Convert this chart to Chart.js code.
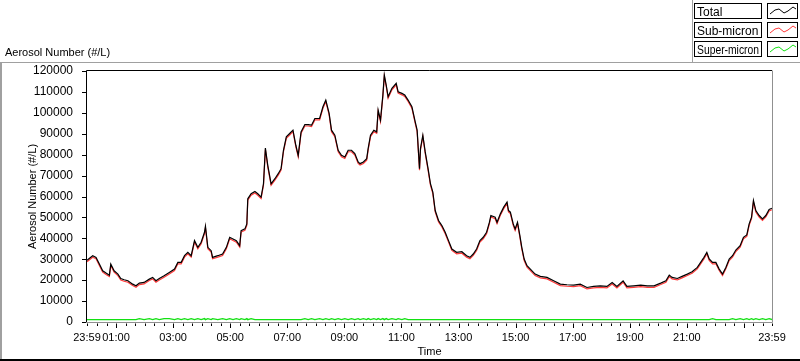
<!DOCTYPE html>
<html><head><meta charset="utf-8">
<script src="https://cdn.jsdelivr.net/npm/chart.js@4"></script>
<style>html,body{margin:0;padding:0;background:#fff;overflow:hidden}</style>
</head><body>
<canvas id="c" width="800" height="361"></canvas>
<script>
// minutes since 23:59 (start of axis)
const times = [0,12,19,26,33,40,47,50,57,65,71,78,86,96,103,110,120,131,138,145,152,162,173,184,191,198,205,212,219,226,233,240,247,249,254,261,264,275,285,
293,300,307,314,321,324,332,336,338,345,353,359,366,371,375,380,387,395,402,408,413,419,426,433,439,444,450,458,465,472,479,489,496,502,509,514,521,528,535,542,549,556,563,570,
574,581,588,591,596,603,609,612,617,622,625,629,633,641,650,654,662,668,675,683,690,694,699,701,706,711,717,722,727,732,739,746,753,760,767,777,788,798,805,812,819,826,833,840,846,849,858,
862,869,876,883,886,890,896,900,905,910,914,919,925,932,942,953,967,981,995,1009,1023,1037,1051,1065,1079,1093,1104,1114,1127,1135,1149,
1164,1178,1192,1206,1217,1224,1230,1241,1251,1262,1272,1283,1290,1297,1303,1308,1315,1322,1329,1336,1343,1350,1357,1364,1373,1380,1387,1392,1397,1401,1406,1413,1420,1427,1434,1440];

const total = [29500,31700,30900,27700,24500,23400,22400,27700,24500,22900,20800,20200,19700,18100,17300,18600,18900,20500,21300,19700,20800,22100,23700,25300,28500,28500,31700,33300,31700,38900,35700,38100,42900,45800,35700,34100,30900,31700,32500,
35700,40500,39700,38900,36500,43700,44500,46900,58900,61300,62400,61300,59700,66100,83200,74900,66100,68500,70900,73300,82100,88500,90100,91700,84500,79700,90900,94400,94400,94100,97300,97300,102900,106100,99700,91700,89300,82100,79700,78900,82100,82100,80500,76500,
75700,76500,78100,82900,89300,91700,90900,101300,96500,108500,118100,113300,107700,111700,114100,110100,109300,108500,106100,102900,95700,91700,73300,82900,89300,81300,73300,66100,62100,53300,48500,46100,42900,38900,34900,33300,33600,31700,30900,32500,34900,38900,40500,42900,47700,50900,50100,
47700,51700,54900,57300,53300,52500,46900,44500,47700,41300,35700,30100,26900,25300,22900,21800,21300,19700,18100,17800,17600,18100,16500,17000,17300,17000,18900,17000,19700,17000,17300,
17600,17300,17300,18600,19700,22400,21300,20800,21800,22900,24000,26100,28500,30900,33300,30100,28500,28500,25300,22900,26100,30100,31700,34400,36500,40500,41600,46900,50100,58100,53300,50900,49300,50900,53800,54400];

const subMicron = [28800,31000,30200,27000,23800,22700,21700,27000,23800,22200,20100,19500,19000,17400,16600,17900,18200,19800,20600,19000,20100,21400,23000,24600,27800,27800,31000,32600,31000,38200,35000,37400,42200,45100,35000,33400,30200,31000,31800,
35000,39800,39000,38200,35800,43000,43800,46200,58200,60600,61700,60600,59000,65400,82500,74200,65400,67800,70200,72600,81400,87800,89400,91000,83800,79000,90200,93700,93700,93400,96600,96600,102200,105400,99000,91000,88600,81400,79000,78200,81400,81400,79800,75800,
75000,75800,77400,82200,88600,91000,90200,100600,95800,107800,117400,112600,107000,111000,113400,109400,108600,107800,105400,102200,95000,91000,72600,82200,88600,80600,72600,65400,61400,52600,47800,45400,42200,38200,34200,32600,32900,31000,30200,31800,34200,38200,39800,42200,47000,50200,49400,
47000,51000,54200,56600,52600,51800,46200,43800,47000,40600,35000,29400,26200,24600,22200,21100,20600,19000,17400,17100,16900,17400,15800,16300,16600,16300,18200,16300,19000,16300,16600,
16900,16600,16600,17900,19000,21700,20600,20100,21100,22200,23300,25400,27800,30200,32600,29400,27800,27800,24600,22200,25400,29400,31000,33700,35800,39800,40900,46200,49400,57400,52600,50200,48600,50200,53100,53700];

const superMicron = [1150,1150,1150,1150,1150,1150,1150,1150,1150,1150,1150,1150,1150,1150,1150,1600,1150,1600,1150,1600,1150,1600,1600,1150,1600,1150,1600,1150,1600,1150,1600,1150,1600,1150,1600,1150,1600,1150,1600,
1150,1600,1150,1600,1150,1600,1150,1600,1150,1600,1150,1150,1150,1150,1150,1150,1150,1150,1150,1150,1150,1150,1150,1150,1150,1150,1150,1600,1150,1600,1150,1600,1150,1600,1150,1600,1150,1600,1150,1600,1150,1600,1150,1600,
1150,1600,1150,1600,1150,1600,1150,1600,1150,1600,1150,1600,1150,1600,1150,1600,1150,1600,1150,1150,1150,1150,1150,1150,1150,1150,1150,1150,1150,1150,1150,1150,1150,1150,1150,1150,1150,1150,1150,1150,1150,1150,1150,1150,1150,1150,1150,
1150,1150,1150,1150,1150,1150,1150,1150,1150,1150,1150,1150,1150,1150,1150,1150,1150,1150,1150,1150,1150,1150,1150,1150,1150,1150,1150,1150,1150,1150,1150,
1150,1150,1150,1150,1150,1150,1150,1150,1150,1150,1150,1150,1150,1150,1150,1150,1600,1150,1150,1150,1150,1150,1600,1150,1600,1150,1600,1150,1600,1150,1600,1150,1600,1150,1600,1150];

const xTickValues = [0,61,181,301,421,541,661,781,901,1021,1141,1261,1440];
const xTickLabels = ['23:59','01:00','03:00','05:00','07:00','09:00','11:00','13:00','15:00','17:00','19:00','21:00','23:59'];
const yTickValues = [0,10000,20000,30000,40000,50000,60000,70000,80000,90000,100000,110000,120000];
const seriesNames = ['Total','Sub-micron','Super-micron'];
const seriesColors = ['#000000','#ff3838','#12e012'];

const FONT = "'Liberation Sans', Arial, sans-serif";

function pts(arr){ return times.map((t,i)=>({x:t,y:arr[i]})); }

const decor = {
  id:'decor',
  beforeDraw(chart){
    const c = chart.ctx;
    c.save(); c.fillStyle='#fff'; c.fillRect(0,0,chart.width,chart.height); c.restore();
  },
  afterDraw(chart){
    const c = chart.ctx, a = chart.chartArea;
    const xs = chart.scales.x, ys = chart.scales.y;
    c.save();
    // outer frame
    c.strokeStyle='#a0a0a0'; c.lineWidth=1;
    c.beginPath(); c.moveTo(0,62.5); c.lineTo(800,62.5); c.stroke();
    c.beginPath(); c.moveTo(692.5,0); c.lineTo(692.5,62); c.stroke();
    c.lineWidth=2;
    c.beginPath(); c.moveTo(1,62); c.lineTo(1,361); c.stroke();
    c.strokeStyle='#000';
    c.beginPath(); c.moveTo(0,360); c.lineTo(800,360); c.stroke();
    // plot borders
    c.lineWidth=1;
    c.strokeStyle='#000';
    c.beginPath(); c.moveTo(a.left-0.5,a.bottom); c.lineTo(a.left-0.5,a.top-0.5); c.lineTo(a.right,a.top-0.5); c.stroke();
    c.strokeStyle='#909090';
    c.beginPath(); c.moveTo(a.right+0.5,a.top-0.5); c.lineTo(a.right+0.5,a.bottom+0.5); c.lineTo(a.left-1,a.bottom+0.5); c.stroke();
    // y tick marks
    c.strokeStyle='#000';
    yTickValues.forEach(v=>{
      const y = Math.round(ys.getPixelForValue(v))+0.5;
      c.beginPath(); c.moveTo(a.left-5,y); c.lineTo(a.left-1,y); c.stroke();
    });
    // x tick marks (every 20 min, long every 2 h)
    for(let m=1;m<=1441;m+=20){
      const x = Math.round(xs.getPixelForValue(Math.min(m,1440)))+0.5;
      const major = ((m-61)%120===0);
      c.beginPath(); c.moveTo(x,a.bottom+1.5); c.lineTo(x,a.bottom+(major?6:4)); c.stroke();
    }
    // titles
    c.fillStyle='#000';
    c.font = '11px '+FONT;
    c.textBaseline='alphabetic'; c.textAlign='left';
    c.fillText('Aerosol Number (#/L)',5,56);
    c.textAlign='center'; c.textBaseline='middle';
    c.fillText('Time',(a.left+a.right)/2,352);
    c.save();
    c.translate(33,(a.top+a.bottom)/2); c.rotate(-Math.PI/2);
    c.fillText('Aerosol Number (#/L)',0,0);
    c.restore();
    // legend
    const boxTops=[3,22,41];
    seriesNames.forEach((n,i)=>{
      const t=boxTops[i];
      c.fillStyle='#fff'; c.fillRect(694,t,68,16); c.fillRect(767,t,31,16);
      c.strokeStyle='#000'; c.lineWidth=1;
      c.strokeRect(694.5,t+0.5,67,15); c.strokeRect(767.5,t+0.5,30,15);
      c.fillStyle='#000'; c.font='12px '+FONT; c.textAlign='left'; c.textBaseline='alphabetic';
      c.fillText(n,697,t+12.5,62);
      c.strokeStyle=seriesColors[i];
      const z=[[3,11],[8,7],[12,6],[17,10],[21,8],[26,4],[29,6]];
      c.beginPath(); z.forEach((p,k)=>{ k?c.lineTo(767+p[0],t+p[1]):c.moveTo(767+p[0],t+p[1]); }); c.stroke();
    });
    c.restore();
  }
};

new Chart(document.getElementById('c'),{
  type:'line',
  data:{datasets:[
    {label:seriesNames[0],data:pts(total),borderColor:seriesColors[0],borderWidth:1.2},
    {label:seriesNames[1],data:pts(subMicron),borderColor:seriesColors[1],borderWidth:1.2},
    {label:seriesNames[2],data:pts(superMicron),borderColor:seriesColors[2],borderWidth:1.4}
  ]},
  options:{
    responsive:false,animation:false,devicePixelRatio:1,
    layout:{padding:{left:0,right:28,top:71,bottom:0}},
    elements:{point:{radius:0},line:{tension:0}},
    plugins:{legend:{display:false},tooltip:{enabled:false}},
    scales:{
      x:{type:'linear',min:0,max:1440,
        afterBuildTicks:s=>{s.ticks=xTickValues.map(v=>({value:v}));},
        afterFit:s=>{s.height=39;},
        ticks:{autoSkip:false,maxRotation:0,padding:1,color:'#000',font:{family:FONT,size:11},
          callback:(v)=>{const i=xTickValues.indexOf(v);return i>=0?xTickLabels[i]:'';}},
        grid:{display:false},border:{display:false}},
      y:{min:0,max:120000,
        afterBuildTicks:s=>{s.ticks=yTickValues.map(v=>({value:v}));},
        afterFit:s=>{s.width=87;},
        ticks:{padding:6,color:'#000',font:{family:FONT,size:12},callback:v=>String(v)},
        grid:{display:false},border:{display:false}}
    }
  },
  plugins:[decor]
});
</script>
</body></html>
